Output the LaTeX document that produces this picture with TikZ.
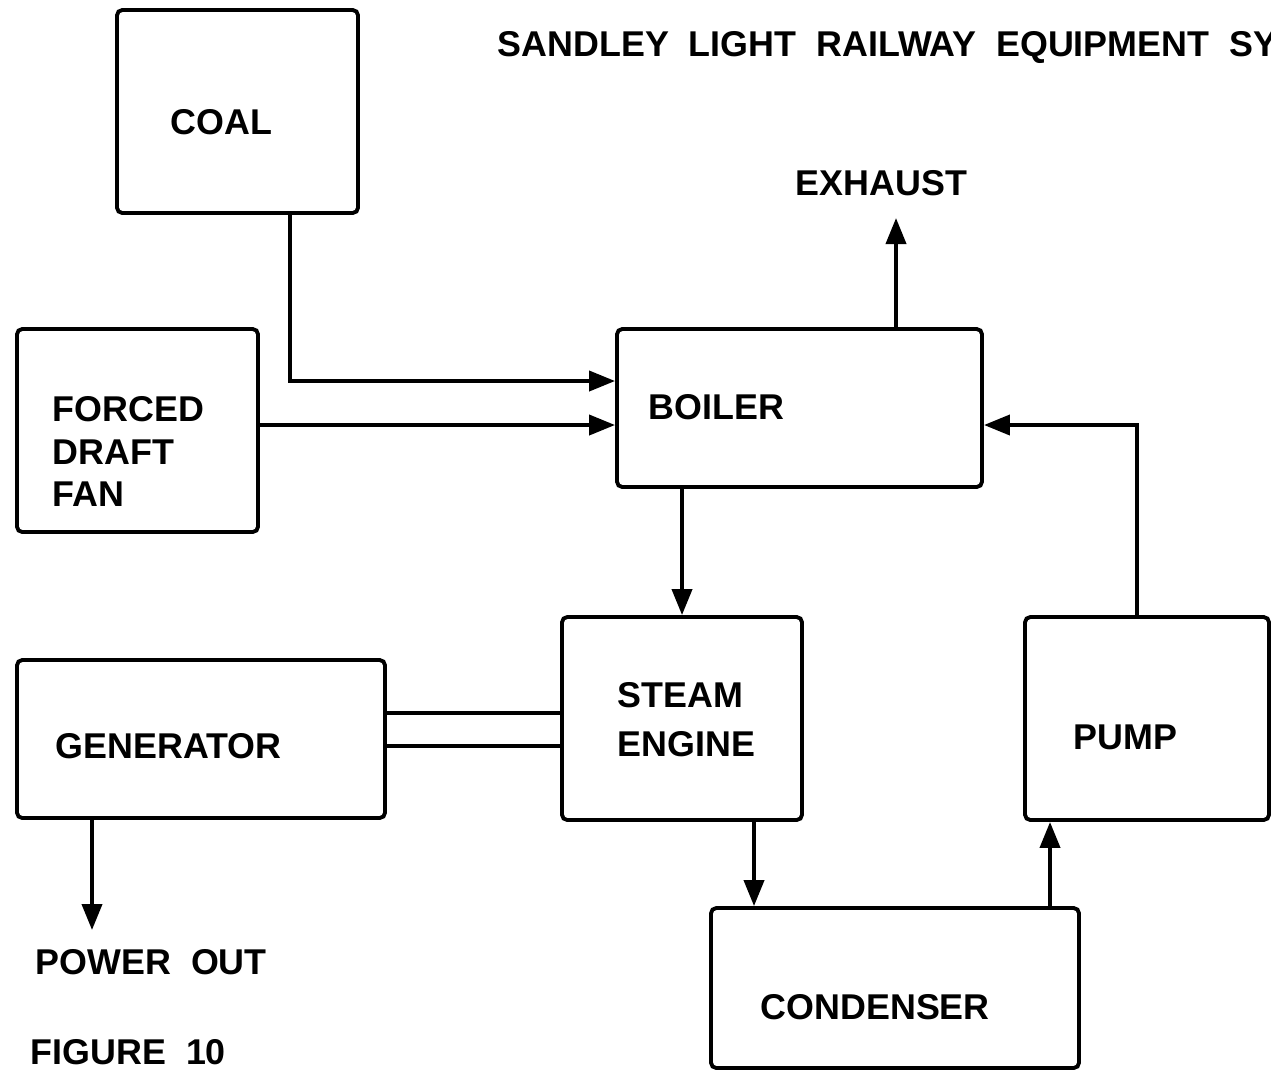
\documentclass[tikz,border=0pt]{standalone}
\usepackage{fontspec}
\setmainfont{Liberation Sans}[WordSpace=2]
\usetikzlibrary{arrows.meta,positioning,calc}

\begin{document}
\begin{tikzpicture}[
    box/.style={draw, line width=1.1pt, rounded corners=1.5pt, inner sep=0pt},
    lbl/.style={inner sep=0pt, anchor=west, align=left, font=\fontsize{10.2}{12}\selectfont\bfseries},
    flow/.style={line width=1.1pt, -{Triangle[length=2.6mm, width=2mm]}},
    shaft/.style={line width=1pt}
  ]
  \useasboundingbox (0,0) rectangle (12.71,-10.76);

  % The blocks
  \node[box, minimum width=2.41cm, minimum height=2.03cm] (coal) at (2.375,-1.115) {};
  \node[box, minimum width=2.41cm, minimum height=2.03cm] (fan) at (1.375,-4.305) {};
  \node[box, minimum width=3.65cm, minimum height=1.58cm] (boiler) at (7.995,-4.08) {};
  \node[box, minimum width=2.40cm, minimum height=2.03cm] (engine) at (6.82,-7.185) {};
  \node[box, minimum width=3.68cm, minimum height=1.58cm] (gen) at (2.01,-7.39) {};
  \node[box, minimum width=2.44cm, minimum height=2.03cm] (pump) at (11.47,-7.185) {};
  \node[box, minimum width=3.68cm, minimum height=1.60cm] (cond) at (8.95,-9.88) {};

  % Labels
  \node[lbl] (title) at (4.97,-0.48) {SANDLEY LIGHT RAILWAY EQUIPMENT SY};
  \node[lbl] (coal-t) at (1.70,-1.22) {COAL};
  \node[lbl] (exhaust) at (7.95,-1.83) {EXHAUST};
  \node[lbl] (boiler-t) at (6.48,-4.07) {BOILER};
  \node[lbl] (fan-t) at (0.52,-4.515) {FORCED\\DRAFT\\FAN};
  \node[lbl, font=\fontsize{10.2}{14}\selectfont\bfseries] (engine-t) at (6.17,-7.195) {STEAM\\ENGINE};
  \node[lbl] (gen-t) at (0.55,-7.46) {GENERATOR};
  \node[lbl] (pump-t) at (10.73,-7.37) {PUMP};
  \node[lbl] (cond-t) at (7.60,-10.07) {CONDENSER};
  \node[lbl] (power) at (0.35,-9.62) {POWER OUT};
  \node[lbl] (fig) at (0.30,-10.52) {FIGURE 10};

  % Free ends
  \coordinate (exhout) at (8.96,-2.18);
  \coordinate (pwrout) at (0.92,-9.30);

  % Connectors
  \draw[flow] ([xshift=5.25mm]coal.south) |- ([yshift=2.7mm]boiler.west);
  \draw[flow] ([yshift=-1.7mm]boiler.west -| fan.east) -- ([yshift=-1.7mm]boiler.west);
  \draw[flow] (boiler.north -| exhout) -- (exhout);
  \draw[flow] (boiler.south -| engine.north) -- (engine.north);
  \draw[flow] ([xshift=7.2mm]engine.south) -- ([xshift=7.2mm]engine.south |- cond.north);
  \draw[flow] ([xshift=15.5mm]cond.north) -- ([xshift=15.5mm]cond.north |- pump.south);
  \draw[flow] ([xshift=-1mm]pump.north) |- ([yshift=-1.7mm]boiler.east);
  \draw[flow] (gen.south -| pwrout) -- (pwrout);
  \draw[shaft] ([yshift=2.6mm]gen.east) -- ([yshift=2.6mm]gen.east -| engine.west);
  \draw[shaft] ([yshift=-0.7mm]gen.east) -- ([yshift=-0.7mm]gen.east -| engine.west);
\end{tikzpicture}
\end{document}
